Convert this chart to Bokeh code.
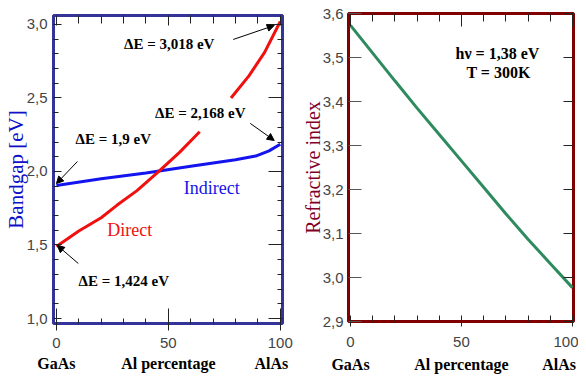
from bokeh.plotting import figure
from bokeh.layouts import row, column
from bokeh.models import (LinearAxis, FixedTicker, CustomJSTickFormatter, Range1d,
                          Label, Arrow, NormalHead, Spacer)
from bokeh.embed import file_html
from bokeh.resources import INLINE

# ---------------- data ----------------
al_pct_direct = [0, 10, 20, 27, 36, 45, 55, 64, float("nan"), 78, 86, 93, 100]
gap_direct = [1.49, 1.595, 1.685, 1.77, 1.87, 1.99, 2.13, 2.27, float("nan"), 2.50, 2.65, 2.81, 3.02]

al_pct_indirect = [0, 20, 40, 60, 80, 89, 95, 100]
gap_indirect = [1.905, 1.95, 1.99, 2.035, 2.08, 2.105, 2.14, 2.185]

al_pct_n = [0, 10, 20, 30, 40, 50, 60, 70, 80, 90, 100]
refr_index = [3.573, 3.51, 3.447, 3.385, 3.325, 3.265, 3.205, 3.145, 3.087, 3.032, 2.977]

x_ticks = [0, 50, 100]
x_minor = [10, 20, 30, 40, 60, 70, 80, 90]
gap_ticks = [1.0, 1.5, 2.0, 2.5, 3.0]
gap_minor = [1.1, 1.2, 1.3, 1.4, 1.6, 1.7, 1.8, 1.9, 2.1, 2.2, 2.3, 2.4, 2.6, 2.7, 2.8, 2.9]
n_ticks = [2.9, 3.0, 3.1, 3.2, 3.3, 3.4, 3.5, 3.6]
end_labels = {0: "GaAs", 50: "Al percentage", 100: "AlAs"}

TICK_FONT = "Liberation Sans"
SERIF = "Liberation Serif"
comma_fmt = CustomJSTickFormatter(code="return tick.toFixed(1).replace('.', ',')")
blank_fmt = CustomJSTickFormatter(code="return ''")


def style_axis(ax, tin, tout, min_in, min_out, show_labels=True, color="#222222"):
    ax.axis_line_color = None
    ax.major_tick_in = tin
    ax.major_tick_out = tout
    ax.minor_tick_in = min_in
    ax.minor_tick_out = min_out
    ax.major_tick_line_color = color
    ax.minor_tick_line_color = color
    if show_labels:
        ax.major_label_text_font = TICK_FONT
        ax.major_label_text_font_size = "15px"
        ax.major_label_text_color = "#444444"
    else:
        ax.formatter = blank_fmt
        ax.major_label_standoff = 0


def end_label_axis(p, ticks_pos, standoff):
    ax = LinearAxis(ticker=FixedTicker(ticks=ticks_pos),
                    major_label_overrides={t: end_labels[k] for t, k in zip(ticks_pos, x_ticks)})
    ax.axis_line_color = None
    ax.major_tick_line_color = None
    ax.minor_tick_line_color = None
    ax.major_tick_out = 0
    ax.major_tick_in = 0
    ax.major_label_standoff = standoff
    ax.major_label_text_font = SERIF
    ax.major_label_text_font_style = "bold"
    ax.major_label_text_font_size = "16px"
    ax.major_label_text_color = "black"
    p.add_layout(ax, "below")


# ---------------- left: bandgap ----------------
p1 = figure(frame_width=229, frame_height=308, output_backend="svg", toolbar_location=None,
            x_range=Range1d(-1.3, 101), y_range=Range1d(0.966, 3.061),
            min_border_left=47, min_border_right=16, min_border_top=8, min_border_bottom=0,
            x_axis_type=None, y_axis_type=None)
p1.grid.visible = False
p1.outline_line_color = "#333399"
p1.outline_line_width = 3
p1.background_fill_color = "white"
p1.border_fill_color = "white"

ax = LinearAxis(ticker=FixedTicker(ticks=gap_ticks, minor_ticks=gap_minor), formatter=comma_fmt,
                axis_label="Bandgap [eV]")
style_axis(ax, 8, 0, 5, 0)
ax.major_label_standoff = 6
ax.axis_label_text_font = SERIF
ax.axis_label_text_font_style = "normal"
ax.axis_label_text_font_size = "21px"
ax.axis_label_text_color = "#1010C8"
ax.axis_label_standoff = -4
p1.add_layout(ax, "left")

ax = LinearAxis(ticker=FixedTicker(ticks=gap_ticks, minor_ticks=gap_minor))
style_axis(ax, 14, 0, 5, 0, show_labels=False)
p1.add_layout(ax, "right")

ax = LinearAxis(ticker=FixedTicker(ticks=x_ticks, minor_ticks=x_minor))
style_axis(ax, 10, 0, 8, 0, show_labels=False)
p1.add_layout(ax, "above")

ax = LinearAxis(ticker=FixedTicker(ticks=x_ticks, minor_ticks=x_minor))
style_axis(ax, 15, 7, 5, 0)
ax.major_label_standoff = 7
p1.add_layout(ax, "below")
end_label_axis(p1, [0, 50, 96], 4)

p1.line(al_pct_indirect, gap_indirect, line_color="#1414F0", line_width=3)
p1.line(al_pct_direct, gap_direct, line_color="#F01010", line_width=3)

for txt, x, y in [("ΔE = 3,018 eV", 50.4, 2.87), ("ΔE = 2,168 eV", 64.3, 2.40),
                  ("ΔE = 1,9 eV", 25.4, 2.218), ("ΔE = 1,424 eV", 30.1, 1.252)]:
    p1.add_layout(Label(x=x, y=y, text=txt, text_align="center", text_baseline="middle",
                        text_font=SERIF, text_font_style="bold", text_font_size="15px",
                        text_color="black"))
p1.add_layout(Label(x=69.4, y=1.891, text="Indirect", text_align="center", text_baseline="middle",
                    text_font=SERIF, text_font_size="18px", text_color="#1414E6"))
p1.add_layout(Label(x=32.8, y=1.599, text="Direct", text_align="center", text_baseline="middle",
                    text_font=SERIF, text_font_size="18px", text_color="#F01010"))

for (xs, ys, xe, ye) in [(79, 2.898, 97.3, 2.993), (86.6, 2.327, 97.3, 2.211),
                         (9.4, 2.068, 0.0, 1.918), (9.8, 1.374, 0.4, 1.497)]:
    p1.add_layout(Arrow(x_start=xs, y_start=ys, x_end=xe, y_end=ye, line_width=1, line_color="black",
                        end=NormalHead(size=7, fill_color="black", line_color="black")))

# ---------------- right: refractive index ----------------
p2 = figure(frame_width=225, frame_height=308, output_backend="svg", toolbar_location=None,
            x_range=Range1d(-0.9, 100.5), y_range=Range1d(2.9, 3.6),
            min_border_left=48, min_border_right=5, min_border_top=8, min_border_bottom=0,
            x_axis_type=None, y_axis_type=None)
p2.grid.visible = False
p2.outline_line_color = "#800000"
p2.outline_line_width = 3
p2.border_fill_color = "white"

ax = LinearAxis(ticker=FixedTicker(ticks=n_ticks), formatter=comma_fmt, axis_label="Refractive index")
style_axis(ax, 13, 0, 0, 0, color="#555555")
ax.major_label_standoff = 5
ax.axis_label_text_font = SERIF
ax.axis_label_text_font_style = "normal"
ax.axis_label_text_font_size = "20px"
ax.axis_label_text_color = "#800028"
ax.axis_label_standoff = -4
p2.add_layout(ax, "left")

ax = LinearAxis(ticker=FixedTicker(ticks=n_ticks))
style_axis(ax, 10, 0, 0, 0, show_labels=False)
p2.add_layout(ax, "right")

ax = LinearAxis(ticker=FixedTicker(ticks=x_ticks, minor_ticks=x_minor))
style_axis(ax, 13, 0, 8, 0, show_labels=False)
p2.add_layout(ax, "above")

ax = LinearAxis(ticker=FixedTicker(ticks=x_ticks, minor_ticks=x_minor))
style_axis(ax, 6, 5, 6, 0)
ax.major_label_standoff = 10
p2.add_layout(ax, "below")
end_label_axis(p2, [0, 50, 94], 6)

p2.line(al_pct_n, refr_index, line_color="#2E8B5E", line_width=3)

p2.add_layout(Label(x=66.2, y=3.509, text="hν = 1,38 eV", text_align="center", text_baseline="middle",
                    text_font=SERIF, text_font_style="bold", text_font_size="16px", text_color="black"))
p2.add_layout(Label(x=66.7, y=3.466, text="T = 300K", text_align="center", text_baseline="middle",
                    text_font=SERIF, text_font_style="bold", text_font_size="16px", text_color="black"))

layout = row(column(Spacer(height=7, width=10), p1), column(Spacer(height=5, width=10), p2))
open("out.html", "w").write(file_html(layout, INLINE))
